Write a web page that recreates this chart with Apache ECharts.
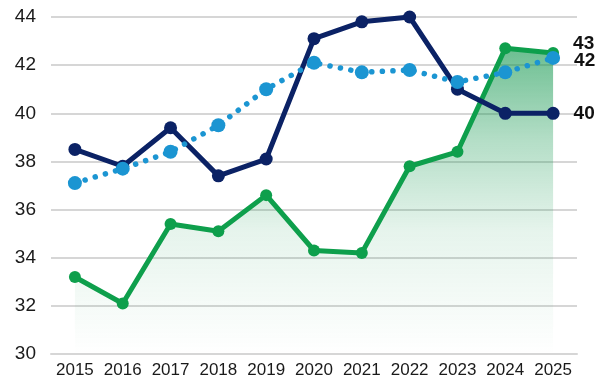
<!DOCTYPE html>
<html><head><meta charset="utf-8">
<script src="https://cdn.jsdelivr.net/npm/echarts@6/dist/echarts.min.js"></script>
<style>html,body{margin:0;padding:0;background:#fff}#c{width:598px;height:381px}</style>
</head><body><div id="c"></div>
<script>
const categories = ['2015','2016','2017','2018','2019','2020','2021','2022','2023','2024','2025'];
const navyValues = [38.5, 37.8, 39.4, 37.4, 38.1, 43.1, 43.8, 44.0, 41.0, 40.0, 40.0];
const blueValues = [37.1, 37.7, 38.4, 39.5, 41.0, 42.1, 41.7, 41.8, 41.3, 41.7, 42.3];
const greenValues = [33.2, 32.1, 35.4, 35.1, 36.6, 34.3, 34.2, 37.8, 38.4, 42.7, 42.5];
const endLabels = {green: '43', blue: '42', navy: '40'};

const NAVY = '#0b2265', BLUE = '#1b95d2', GREEN = '#0e9f4c';

function withEndLabel(values, text, color, offsetY) {
  return values.map((v, i) => i === values.length - 1 ? {
    value: v,
    label: {show: true, position: 'right', distance: 14, offset: [0, offsetY],
      formatter: text, color: '#111', fontWeight: 'bold', fontSize: 19,
      fontFamily: 'Liberation Sans, Arial, sans-serif'}
  } : v);
}

const chart = echarts.init(document.getElementById('c'), null, {renderer: 'canvas'});
chart.setOption({
  animation: false,
  grid: {left: 51, right: 21, top: 17, bottom: 27},
  xAxis: {
    type: 'category', data: categories, boundaryGap: true,
    axisLine: {show: true, lineStyle: {color: '#d6d6d6', width: 2}},
    axisTick: {show: false},
    axisLabel: {interval: 0, color: '#1a1a1a', fontSize: 17, margin: 8, fontFamily: 'Liberation Sans, Arial, sans-serif'}
  },
  yAxis: {
    type: 'value', min: 30, max: 44, interval: 2,
    axisLine: {show: false}, axisTick: {show: false},
    axisLabel: {color: '#1a1a1a', fontSize: 19, margin: 15, fontFamily: 'Liberation Sans, Arial, sans-serif'},
    splitLine: {lineStyle: {color: '#d6d6d6', width: 2}}
  },
  series: [
    {
      name: 'green', type: 'line', data: withEndLabel(greenValues, endLabels.green, GREEN, -9),
      symbol: 'circle', symbolSize: 12, z: 3,
      lineStyle: {color: GREEN, width: 5}, itemStyle: {color: GREEN},
      areaStyle: {origin: 'start', color: new echarts.graphic.LinearGradient(0, 0, 0, 1, [
        {offset: 0, color: 'rgba(16,150,76,0.88)'},
        {offset: 0.3, color: 'rgba(16,150,76,0.45)'},
        {offset: 0.6, color: 'rgba(16,150,76,0.15)'},
        {offset: 1, color: 'rgba(16,150,76,0.0)'}
      ])}
    },
    {
      name: 'navy', type: 'line', data: withEndLabel(navyValues, endLabels.navy, NAVY, 0),
      symbol: 'circle', symbolSize: 13, z: 4,
      lineStyle: {color: NAVY, width: 5}, itemStyle: {color: NAVY}
    },
    {
      name: 'blue', type: 'line', data: withEndLabel(blueValues, endLabels.blue, BLUE, 3),
      symbol: 'circle', symbolSize: 14, z: 5,
      lineStyle: {color: BLUE, width: 5.5, type: [0.1, 10.5], cap: 'round'}, itemStyle: {color: BLUE}
    }
  ]
});
</script></body></html>
